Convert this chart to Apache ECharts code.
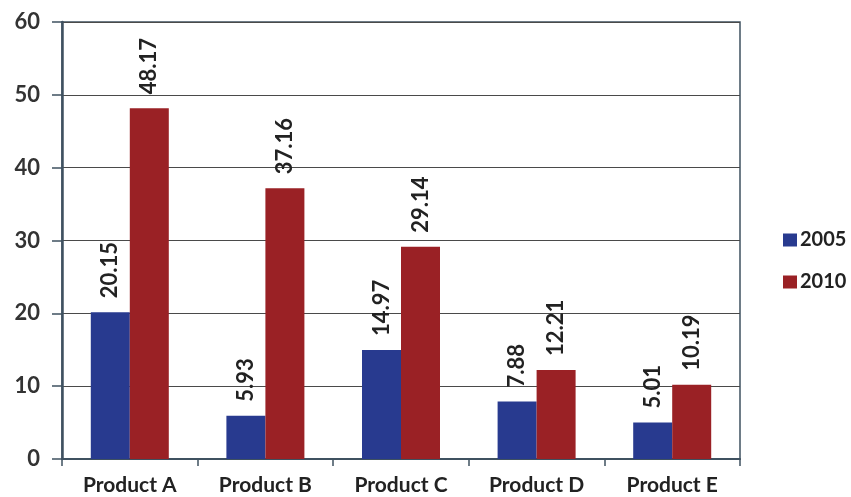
<!DOCTYPE html>
<html>
<head>
<meta charset="utf-8">
<script src="https://cdn.jsdelivr.net/npm/echarts@6/dist/echarts.min.js"></script>
<style>
  html, body { margin: 0; padding: 0; background: #fff; }
  #main { width: 851px; height: 497px; }
</style>
</head>
<body>
<div id="main"></div>
<script>
// chart data
const categories = ['Product A', 'Product B', 'Product C', 'Product D', 'Product E']
const sales2005 = [20.15, 5.93, 14.97, 7.88, 5.01]
const sales2010 = [48.17, 37.16, 29.14, 12.21, 10.19]
const yTicks = { min: 0, max: 60, interval: 10 }

const font = 'Lato, "Open Sans", sans-serif'
const axisColor = '#3f5160'

let myChart = echarts.init(document.getElementById('main'))

const barLabel = {
  show: true,
  position: 'top',
  rotate: 90,
  align: 'left',
  verticalAlign: 'middle',
  distance: 14,
  color: '#222',
  fontFamily: font,
  fontWeight: 'bold',
  fontSize: 22,
  formatter: p => p.value.toFixed(2)
}

myChart.setOption({
  animation: false,
  backgroundColor: '#fff',
  grid: { left: 62, right: 111, top: 22, bottom: 38, show: true, borderColor: axisColor, borderWidth: 1.5 },
  legend: {
    orient: 'vertical',
    left: 778,
    top: 225,
    itemWidth: 14,
    itemHeight: 13,
    itemGap: 22,
    icon: 'rect',
    textStyle: { fontFamily: font, fontWeight: 'bold', fontSize: 20, color: '#222', padding: [0, 0, 0, -2] },
    data: ['2005', '2010']
  },
  xAxis: {
    type: 'category',
    data: categories,
    axisLine: { lineStyle: { color: axisColor, width: 2 } },
    axisTick: { show: true, length: 7, lineStyle: { color: axisColor, width: 1.5 } },
    axisLabel: { fontFamily: font, fontWeight: 'bold', fontSize: 21, color: '#222', margin: 16 }
  },
  yAxis: {
    type: 'value',
    min: yTicks.min,
    max: yTicks.max,
    interval: yTicks.interval,
    axisLine: { show: true, lineStyle: { color: axisColor, width: 2.5 } },
    axisTick: { show: true, inside: false, length: 10, lineStyle: { color: axisColor, width: 1.5 } },
    splitLine: { lineStyle: { color: '#4a4a4a', width: 1 } },
    axisLabel: { fontFamily: font, fontWeight: 'bold', fontSize: 22, color: '#333', margin: 22 }
  },
  series: [
    {
      name: '2005',
      type: 'bar',
      data: sales2005,
      barWidth: 39,
      barGap: '0%',
      itemStyle: { color: '#283a8f' },
      label: barLabel
    },
    {
      name: '2010',
      type: 'bar',
      data: sales2010,
      barWidth: 39,
      itemStyle: { color: '#9a2125' },
      label: barLabel
    }
  ]
})
</script>
</body>
</html>
